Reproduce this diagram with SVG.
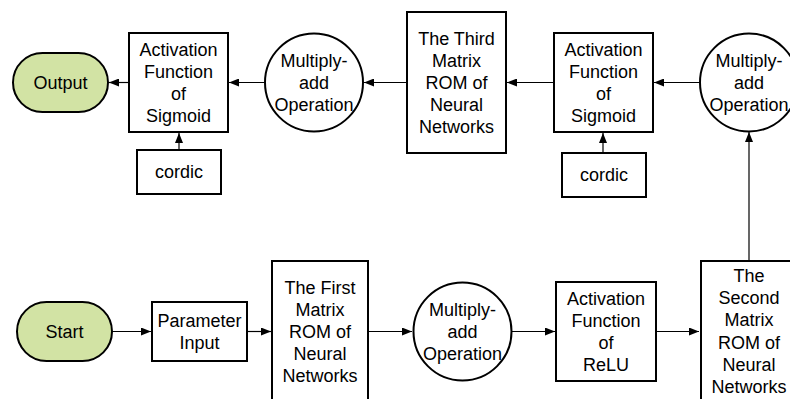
<svg xmlns="http://www.w3.org/2000/svg" width="790" height="399" viewBox="0 0 790 399">
<style>
.n{fill:#fff;stroke:#000;stroke-width:2}
.g{fill:#D2E3A4;stroke:#000;stroke-width:2}
text{font-family:"Liberation Sans",Arial,sans-serif;font-size:18px;fill:#000;text-anchor:middle}
.c line{stroke:#000;stroke-width:1.2;marker-end:url(#a)}
</style>
<defs>
<marker id="a" markerWidth="10" markerHeight="8" refX="10" refY="4" orient="auto" markerUnits="userSpaceOnUse">
<path d="M0,0 L10,4 L0,8 Z" fill="#000"/>
</marker>
</defs>
<g class="c">
<line x1="129" y1="82.5" x2="109" y2="82.5"/>
<line x1="265" y1="82.5" x2="229" y2="82.5"/>
<line x1="407" y1="82.5" x2="364" y2="82.5"/>
<line x1="554" y1="82.5" x2="507" y2="82.5"/>
<line x1="700" y1="82.5" x2="654" y2="82.5"/>
<line x1="179" y1="150" x2="179" y2="133"/>
<line x1="603" y1="153" x2="603" y2="133"/>
<line x1="749" y1="261" x2="749" y2="132"/>
<line x1="112" y1="331.5" x2="151" y2="331.5"/>
<line x1="247" y1="331.5" x2="271" y2="331.5"/>
<line x1="368" y1="331.5" x2="412" y2="331.5"/>
<line x1="512" y1="331.5" x2="555" y2="331.5"/>
<line x1="656" y1="331.5" x2="699" y2="331.5"/>
</g>
<g id="output"><rect class="g" x="13" y="53" width="95" height="59" rx="29.5"/><text x="60.5" y="89">Output</text></g>
<g id="act1"><rect class="n" x="129" y="33" width="99" height="99"/><text x="178.5"><tspan x="178.5" y="56">Activation</tspan><tspan x="178.5" y="78">Function</tspan><tspan x="178.5" y="100">of</tspan><tspan x="178.5" y="122">Sigmoid</tspan></text></g>
<g id="cordic1"><rect class="n" x="137" y="150" width="84" height="44"/><text x="179" y="178">cordic</text></g>
<g id="mac1"><circle class="n" cx="314" cy="82.5" r="49"/><text><tspan x="314" y="67">Multiply-</tspan><tspan x="314" y="89">add</tspan><tspan x="314" y="111">Operation</tspan></text></g>
<g id="rom3"><rect class="n" x="407" y="12" width="99" height="141"/><text><tspan x="456.5" y="44.5">The Third</tspan><tspan x="456.5" y="66.5">Matrix</tspan><tspan x="456.5" y="88.5">ROM of</tspan><tspan x="456.5" y="110.5">Neural</tspan><tspan x="456.5" y="132.5">Networks</tspan></text></g>
<g id="act2"><rect class="n" x="554" y="33" width="99" height="99"/><text><tspan x="603.5" y="56">Activation</tspan><tspan x="603.5" y="78">Function</tspan><tspan x="603.5" y="100">of</tspan><tspan x="603.5" y="122">Sigmoid</tspan></text></g>
<g id="cordic2"><rect class="n" x="562" y="153" width="84" height="44"/><text x="604" y="181">cordic</text></g>
<g id="mac2"><circle class="n" cx="749" cy="82.5" r="49"/><text><tspan x="749" y="67">Multiply-</tspan><tspan x="749" y="89">add</tspan><tspan x="749" y="111">Operation</tspan></text></g>
<g id="start"><rect class="g" x="17" y="302" width="95" height="59" rx="29.5"/><text x="64.5" y="338">Start</text></g>
<g id="param"><rect class="n" x="152" y="302" width="95" height="59"/><text><tspan x="199.5" y="326.5">Parameter</tspan><tspan x="199.5" y="348.5">Input</tspan></text></g>
<g id="rom1"><rect class="n" x="272" y="261" width="96" height="150"/><text><tspan x="320" y="293.5">The First</tspan><tspan x="320" y="315.5">Matrix</tspan><tspan x="320" y="337.5">ROM of</tspan><tspan x="320" y="359.5">Neural</tspan><tspan x="320" y="381.5">Networks</tspan></text></g>
<g id="mac3"><circle class="n" cx="462.5" cy="331.5" r="49"/><text><tspan x="462.5" y="316">Multiply-</tspan><tspan x="462.5" y="338">add</tspan><tspan x="462.5" y="360">Operation</tspan></text></g>
<g id="relu"><rect class="n" x="556" y="282" width="100" height="99"/><text><tspan x="606" y="304.5">Activation</tspan><tspan x="606" y="326.5">Function</tspan><tspan x="606" y="348.5">of</tspan><tspan x="606" y="371">ReLU</tspan></text></g>
<g id="rom2"><rect class="n" x="701" y="261" width="98" height="150"/><text><tspan x="749" y="281.5">The</tspan><tspan x="749" y="304">Second</tspan><tspan x="749" y="326">Matrix</tspan><tspan x="749" y="348.5">ROM of</tspan><tspan x="749" y="371">Neural</tspan><tspan x="749" y="393">Networks</tspan></text></g>
</svg>
